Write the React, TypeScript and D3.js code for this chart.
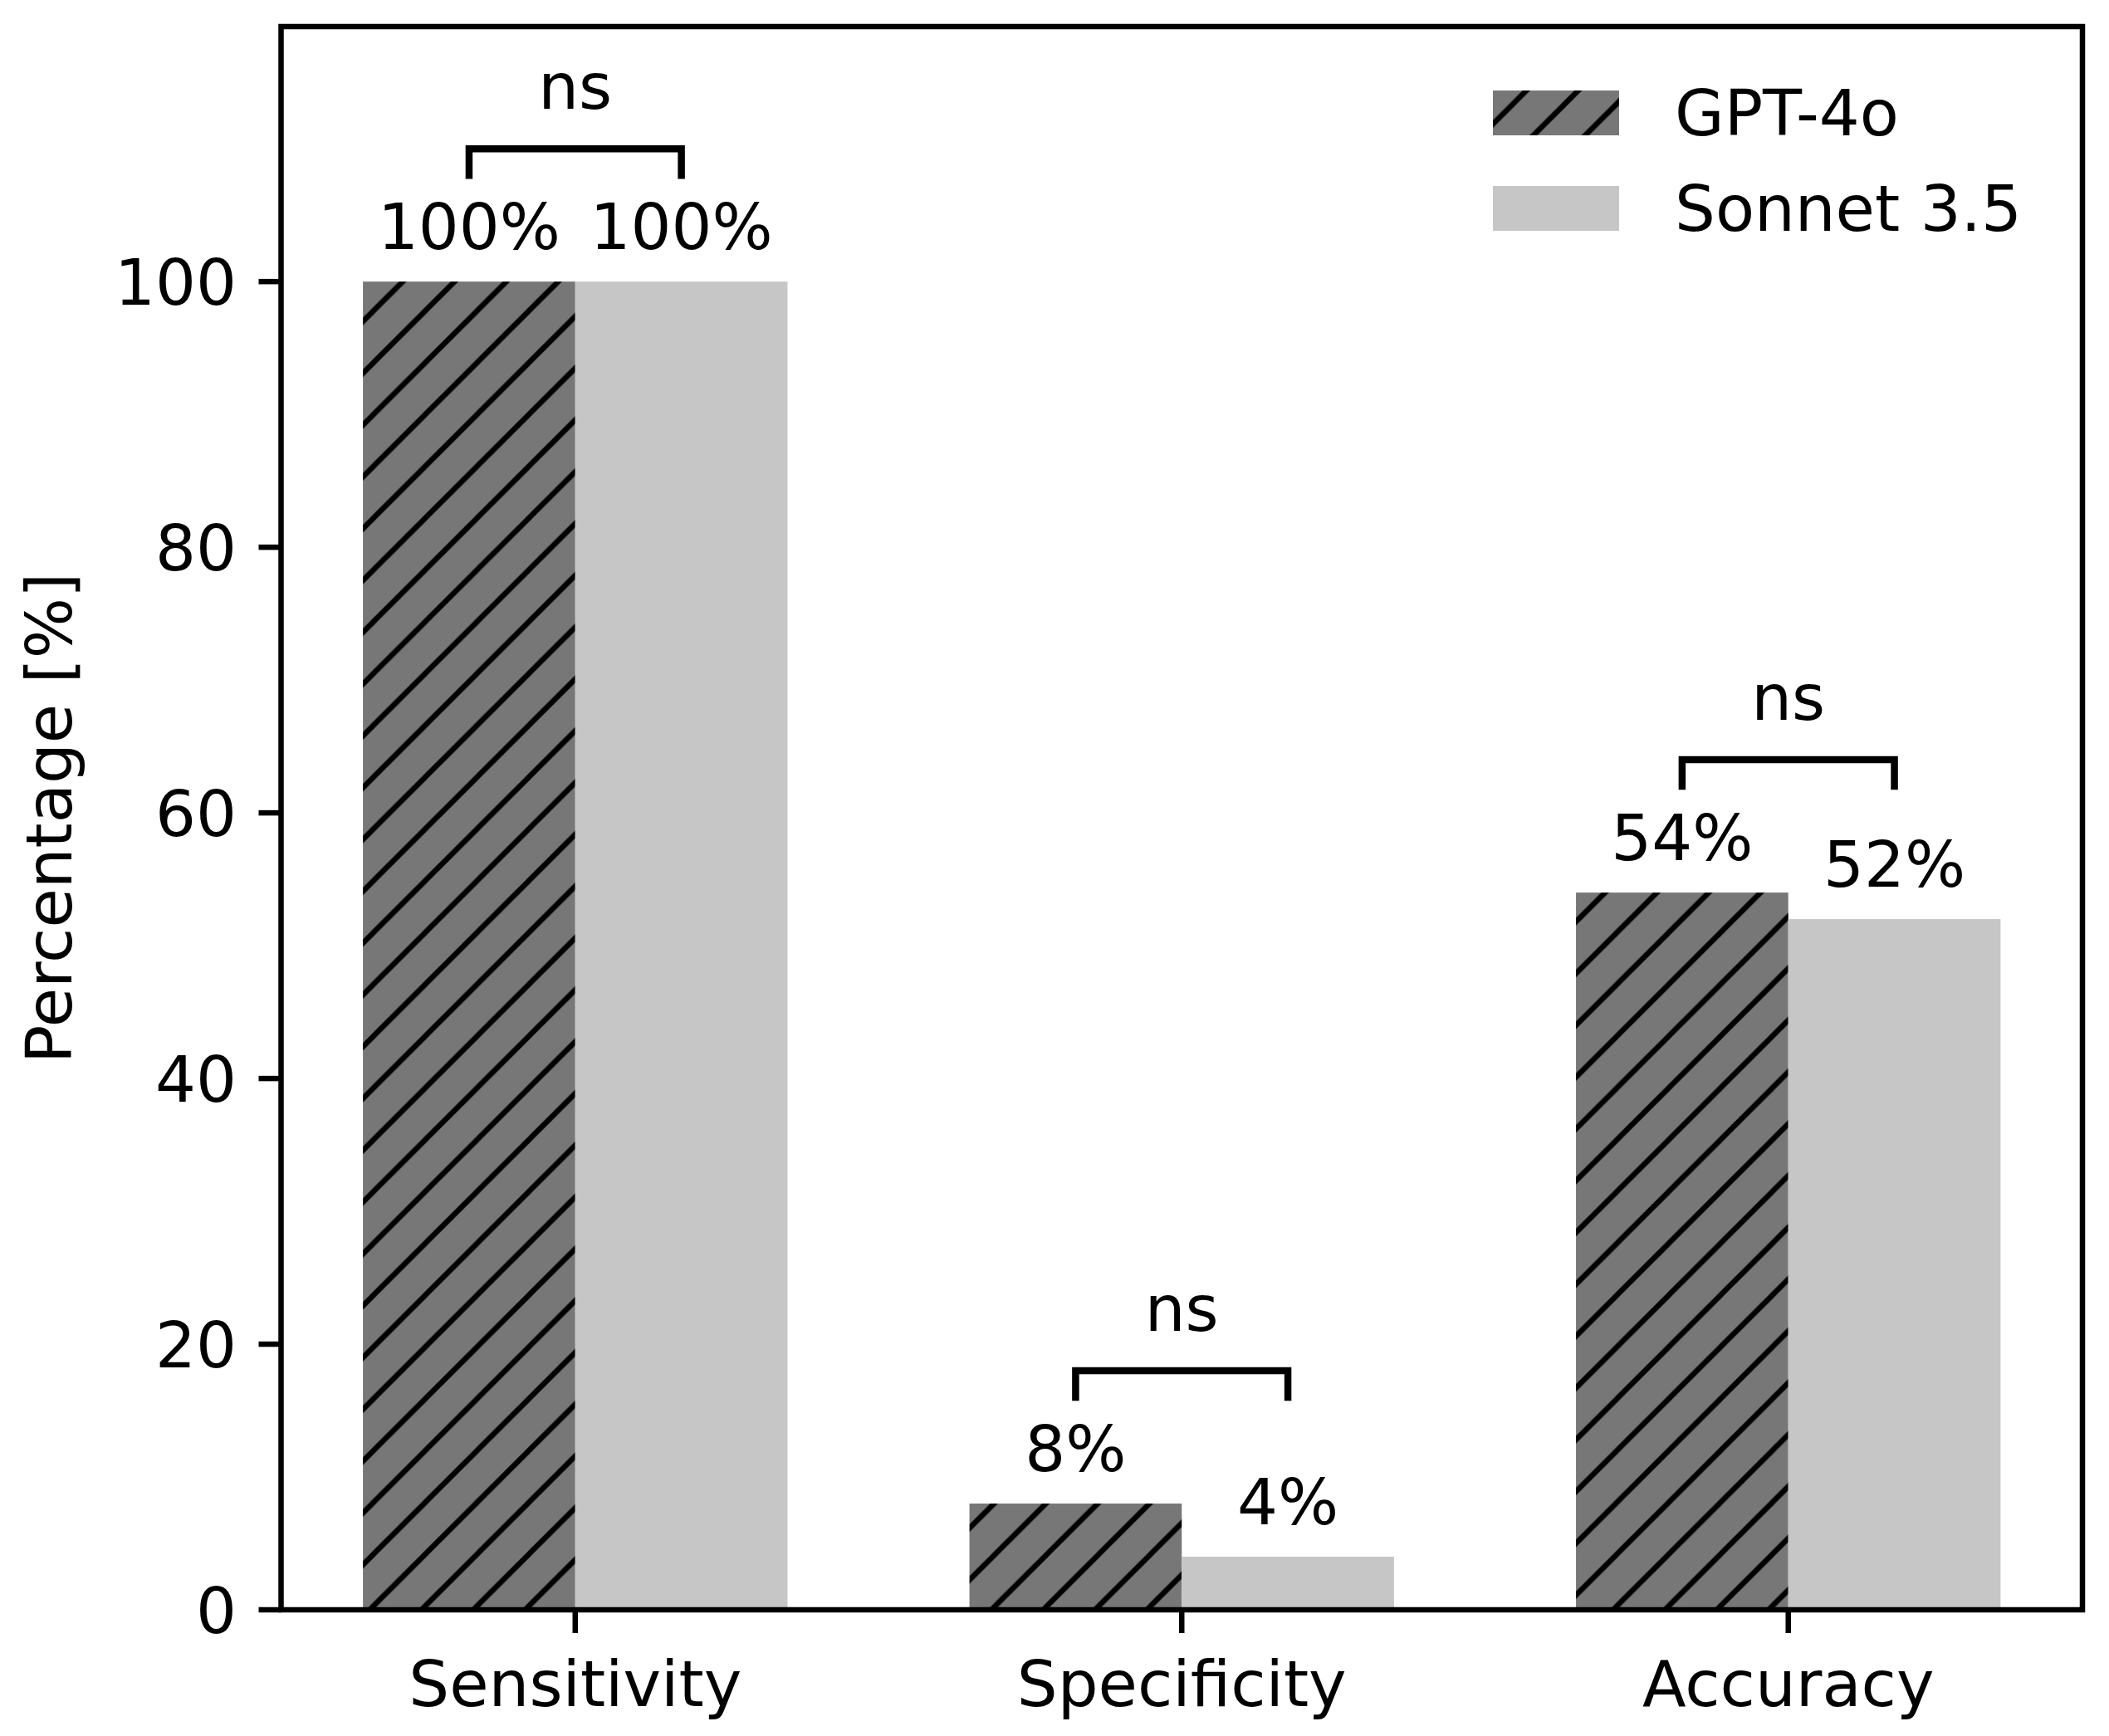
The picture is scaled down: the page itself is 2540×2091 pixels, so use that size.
import React from "react";
import * as d3 from "d3";

const categories = ["Sensitivity", "Specificity", "Accuracy"];
const seriesNames = ["GPT-4o", "Sonnet 3.5"];
const gptValues = [100, 8, 54];
const sonnetValues = [100, 4, 52];
const sigLabels = ["ns", "ns", "ns"];
const yTicks = [0, 20, 40, 60, 80, 100];

const W = 2540;
const H = 2091;
const FONT = "DejaVu Sans, sans-serif";
const FS = 77;
const DARK = "#777777";
const LIGHT = "#c6c6c6";
const BAR_W = 0.35;

export default function App() {
  const x = d3.scaleLinear().domain([-0.485, 2.485]).range([338.5, 2508]);
  const y = d3.scaleLinear().domain([0, 119.2]).range([1939, 32]);
  const pxPerUnit = x(1) - x(0);
  const bw = BAR_W * pxPerUnit;
  const series = [gptValues, sonnetValues];
  const fills = [DARK, LIGHT];
  const S = 62.4;

  return (
    <svg
      width={W}
      height={H}
      viewBox={`0 0 ${W} ${H}`}
      style={{ position: "absolute", left: 0, top: 0, background: "#fff" }}
      fontFamily={FONT}
    >
      <defs>
        <pattern id="hatch" patternUnits="userSpaceOnUse" x={13} y={0} width={S} height={S}>
          <rect width={S} height={S} fill={DARK} />
          <g stroke="#000" strokeWidth={6.5}>
            <line x1={0} y1={S} x2={S} y2={0} />
            <line x1={-S / 2} y1={S / 2} x2={S / 2} y2={-S / 2} />
            <line x1={S / 2} y1={S * 1.5} x2={S * 1.5} y2={S / 2} />
          </g>
        </pattern>
      </defs>
      <rect width={W} height={H} fill="#fff" />

      {/* bars */}
      {series.map((vals, si) =>
        vals.map((v, i) => {
          const x0 = x(i) + (si === 0 ? -bw : 0);
          return (
            <rect
              key={`b${si}-${i}`}
              x={x0}
              y={y(v)}
              width={bw}
              height={y(0) - y(v)}
              fill={si === 0 ? "url(#hatch)" : fills[si]}
            />
          );
        })
      )}

      {/* value labels */}
      {series.map((vals, si) =>
        vals.map((v, i) => (
          <text
            key={`l${si}-${i}`}
            x={x(i) + (si === 0 ? -bw / 2 : bw / 2)}
            y={y(v) - 39}
            fontSize={FS}
            textAnchor="middle"
            fill="#000"
          >
            {`${v}%`}
          </text>
        ))
      )}

      {/* significance brackets */}
      {categories.map((c, i) => {
        const m = Math.max(gptValues[i], sonnetValues[i]);
        const x1 = x(i) - bw / 2;
        const x2 = x(i) + bw / 2;
        const yb = y(m + 8);
        const yt = y(m + 10);
        return (
          <g key={`s${i}`}>
            <path
              d={`M${x1},${yb} L${x1},${yt} L${x2},${yt} L${x2},${yb}`}
              fill="none"
              stroke="#000"
              strokeWidth={8.5}
              strokeLinecap="square"
              strokeLinejoin="miter"
            />
            <text x={x(i)} y={y(m + 13)} fontSize={FS} textAnchor="middle">
              {sigLabels[i]}
            </text>
          </g>
        );
      })}

      {/* axes frame */}
      <rect
        x={x.range()[0]}
        y={y.range()[1]}
        width={x.range()[1] - x.range()[0]}
        height={y.range()[0] - y.range()[1]}
        fill="none"
        stroke="#000"
        strokeWidth={6.5}
      />

      {/* y ticks */}
      {yTicks.map((t) => (
        <g key={`yt${t}`}>
          <line x1={x.range()[0] - 27} x2={x.range()[0]} y1={y(t)} y2={y(t)} stroke="#000" strokeWidth={6.5} />
          <text x={285} y={y(t) + 28} fontSize={FS} textAnchor="end">
            {t}
          </text>
        </g>
      ))}

      {/* x ticks */}
      {categories.map((c, i) => (
        <g key={`xt${i}`}>
          <line x1={x(i)} x2={x(i)} y1={y(0)} y2={y(0) + 28} stroke="#000" strokeWidth={6.5} />
          <text x={x(i)} y={2055} fontSize={FS} textAnchor="middle">
            {c}
          </text>
        </g>
      ))}

      {/* y label */}
      <text
        transform={`translate(86, ${(y.range()[0] + y.range()[1]) / 2}) rotate(-90)`}
        fontSize={FS}
        textAnchor="middle"
      >
        Percentage [%]
      </text>

      {/* legend */}
      {seriesNames.map((n, si) => (
        <g key={`lg${si}`}>
          <rect
            x={1798}
            y={109 + si * 115}
            width={152}
            height={54}
            fill={si === 0 ? "url(#hatch)" : fills[si]}
          />
          <text x={2017} y={163 + si * 115} fontSize={FS}>
            {n}
          </text>
        </g>
      ))}
    </svg>
  );
}
